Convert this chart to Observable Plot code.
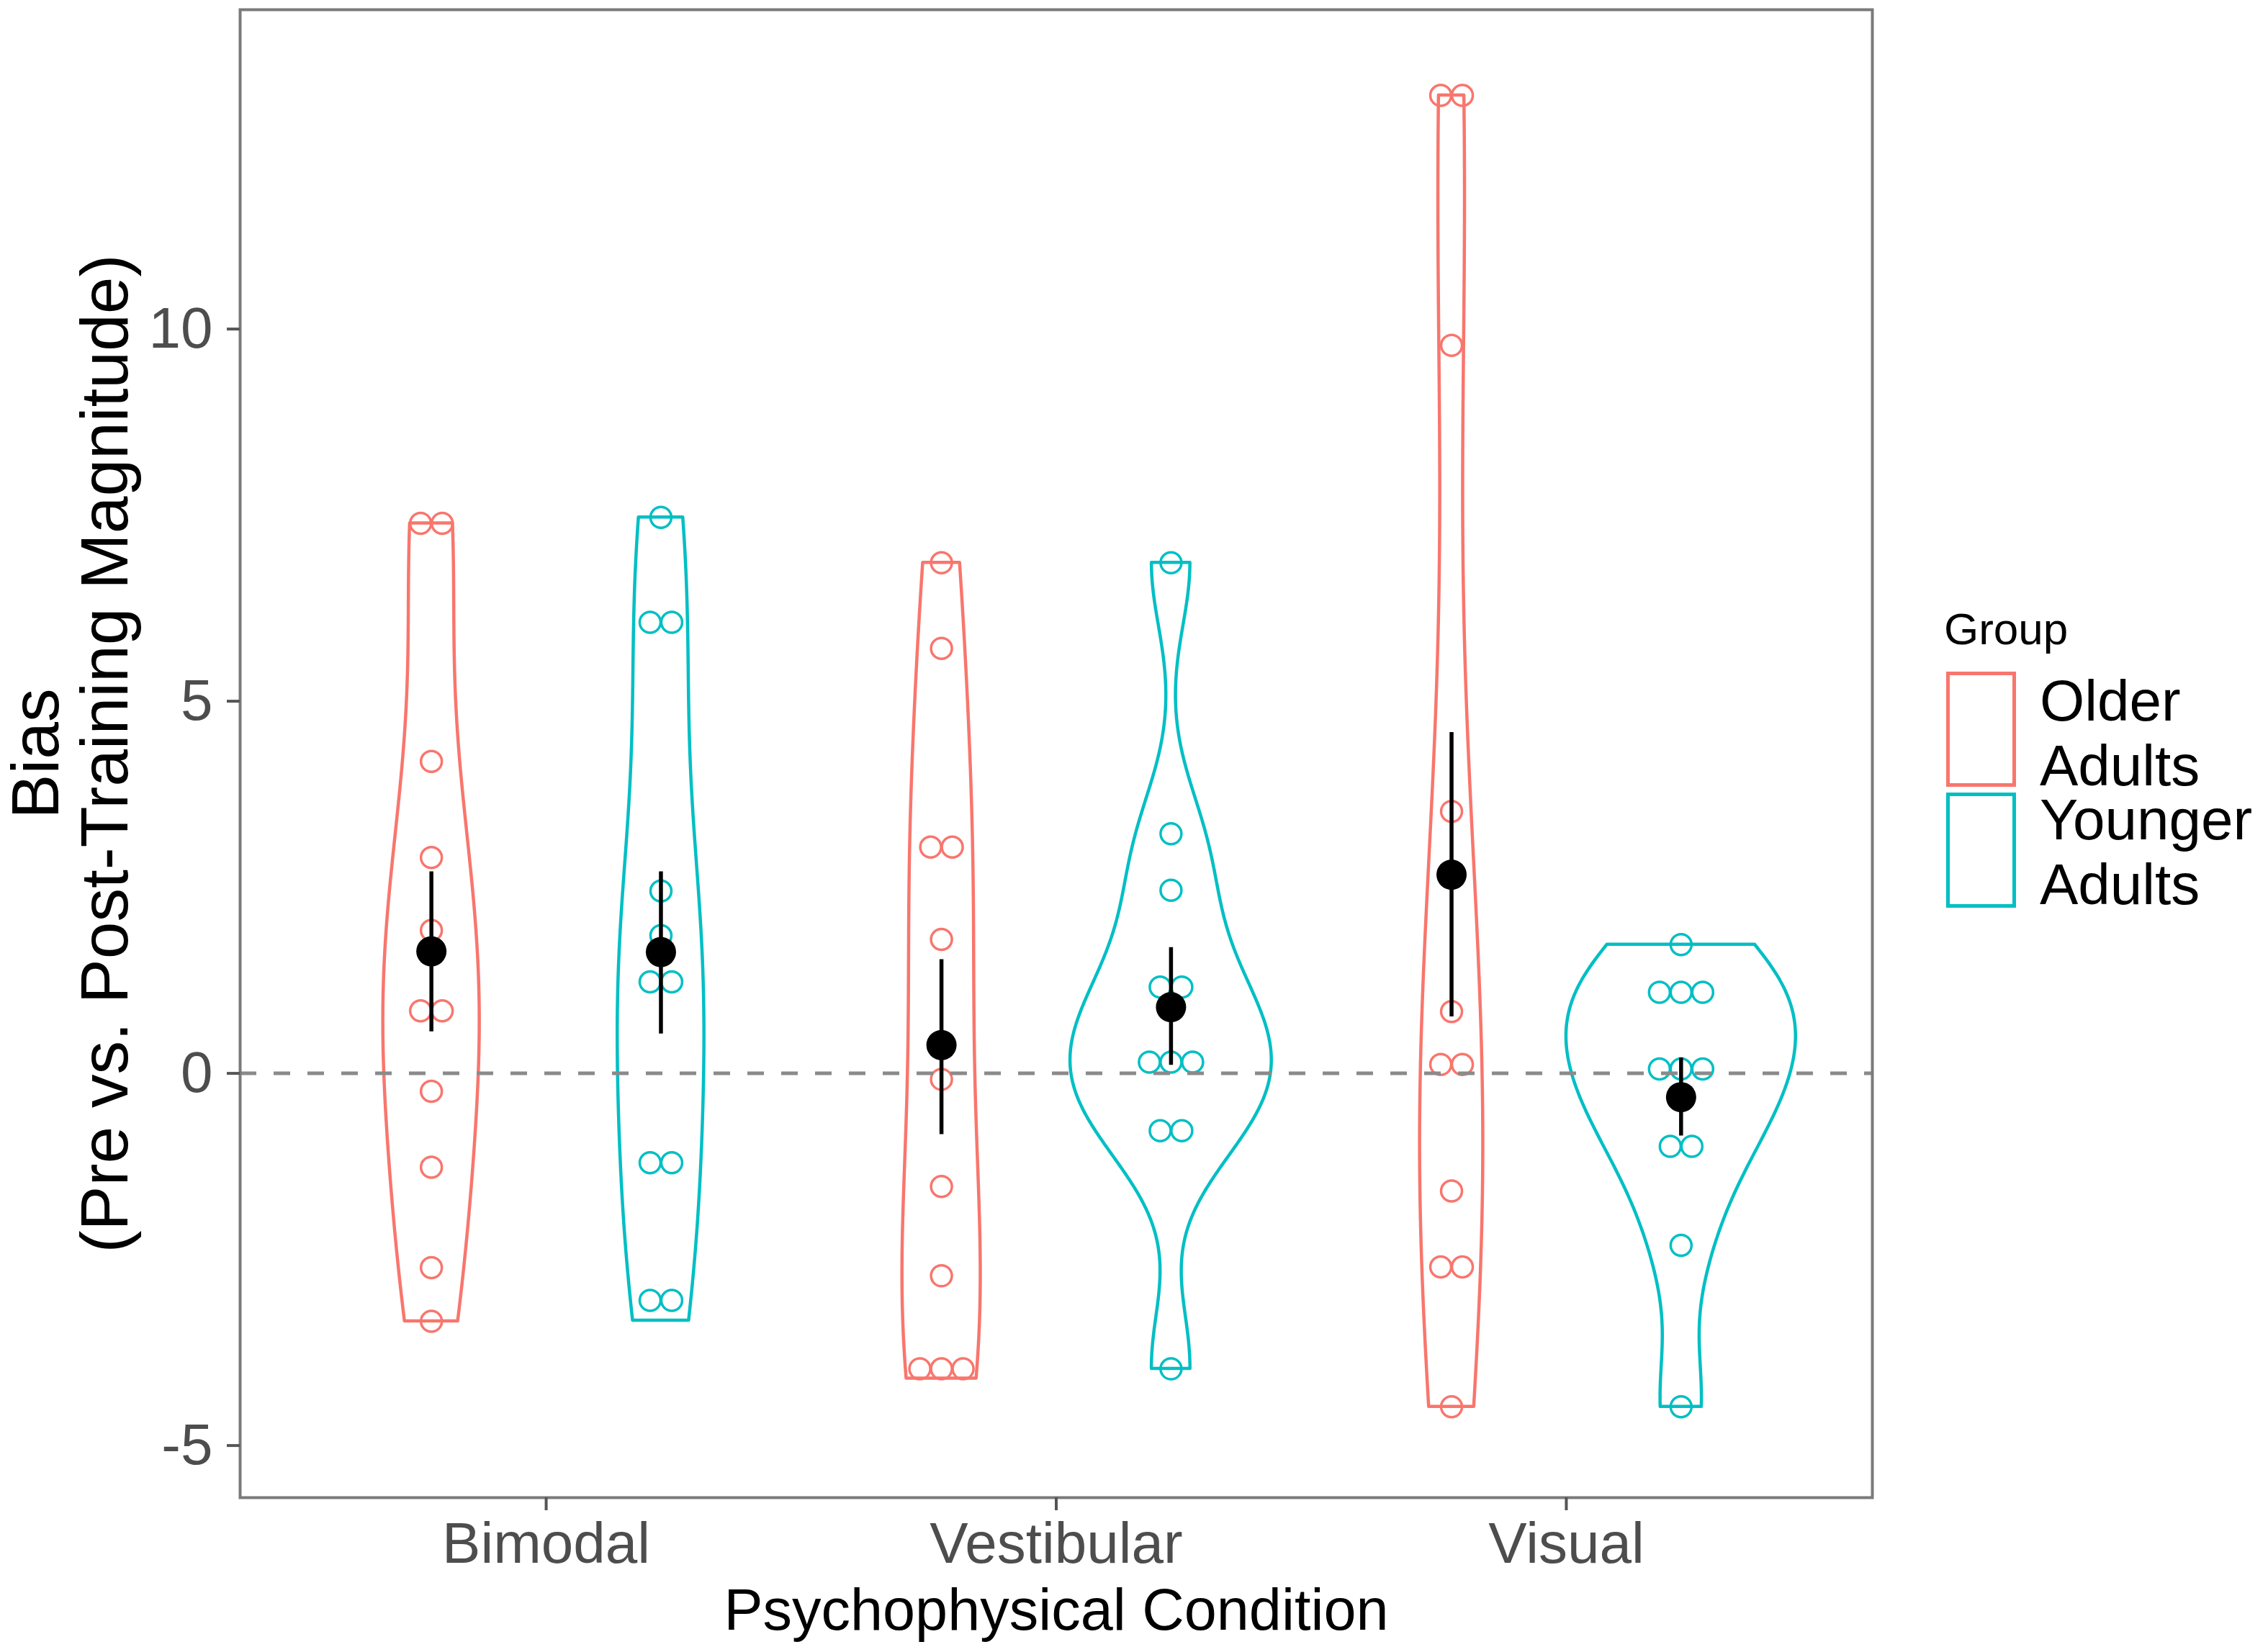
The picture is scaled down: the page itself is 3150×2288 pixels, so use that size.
<!DOCTYPE html>
<html><head><meta charset="utf-8">
<script src="https://cdn.jsdelivr.net/npm/d3@7"></script>
<script src="https://cdn.jsdelivr.net/npm/@observablehq/plot@0.6"></script>
<style>
body{margin:0;background:#fff;}
#wrap{position:relative;width:3150px;height:2288px;font-family:"Liberation Sans",Arial,Helvetica,sans-serif;}
#wrap svg{position:absolute;left:0;top:0;}
</style></head><body><div id="wrap"></div>
<script>
// ---- data ----
const conditions = ["Bimodal", "Vestibular", "Visual"];
const groups = ["Older Adults", "Younger Adults"];
const groupColors = ["#F8766D", "#00BFC4"];
const yTicks = [-5, 0, 5, 10];

const bimodalOlder      = [7.39, 7.39, 4.19, 2.90, 1.92, 0.84, 0.84, -0.24, -1.26, -2.61, -3.33];
const bimodalYounger    = [7.47, 6.06, 6.06, 2.45, 1.85, 1.23, 1.23, -1.20, -1.20, -3.05, -3.05];
const vestibularOlder   = [6.86, 5.71, 3.04, 3.04, 1.80, -0.08, -1.52, -2.72, -3.97, -3.97, -3.97];
const vestibularYounger = [6.86, 3.22, 2.46, 1.16, 1.16, 0.15, 0.15, 0.15, -0.77, -0.77, -3.97];
const visualOlder       = [13.14, 13.14, 9.78, 3.52, 0.83, 0.12, 0.12, -1.58, -2.60, -2.60, -4.48];
const visualYounger     = [1.73, 1.09, 1.09, 1.09, 0.06, 0.06, 0.06, -0.98, -0.98, -2.31, -4.48];

// order: Bimodal-Older, Bimodal-Younger, Vestibular-Older, Vestibular-Younger, Visual-Older, Visual-Younger
const violinMin = [-3.33, -3.32, -4.10, -3.97, -4.48, -4.48];
const violinMax = [7.39, 7.47, 6.86, 6.86, 13.14, 1.73];
const meanBias  = [1.64, 1.63, 0.38, 0.89, 2.67, -0.32];
const errLow    = [0.56, 0.53, -0.82, 0.11, 0.76, -0.84];
const errHigh   = [2.71, 2.71, 1.53, 1.69, 4.58, 0.21];

// ---- layout ----
const W = 3150, H = 2288, ML = 333, MR = 550, MT = 13, MB = 208;
const xDomain = [0.4, 3.6];
const pxPerUnit = (W - ML - MR) / (xDomain[1] - xDomain[0]);
const dodge = 0.225;
const dotDiam = 30;

const seriesValues = [bimodalOlder, bimodalYounger, vestibularOlder, vestibularYounger, visualOlder, visualYounger];
const series = seriesValues.map((values, i) => {
  const cond = Math.floor(i / 2), grp = i % 2;
  return {i, cond, grp, group: groups[grp], values, cx: cond + 1 + (grp === 0 ? -dodge : dodge)};
});

// Gaussian kernel density (bw.nrd0), like ggplot's stat_ydensity
function kde(values, lo, hi, n = 512) {
  const s = values.slice().sort(d3.ascending);
  const sd = d3.deviation(s);
  const iqr = d3.quantile(s, 0.75) - d3.quantile(s, 0.25);
  let m = Math.min(sd, iqr / 1.34);
  if (!(m > 0)) m = sd;
  const bw = 0.9 * m * Math.pow(s.length, -0.2);
  const out = [];
  for (let k = 0; k < n; k++) {
    const y = lo + (hi - lo) * k / (n - 1);
    let d = 0;
    for (const v of s) { const u = (y - v) / bw; d += Math.exp(-0.5 * u * u); }
    out.push({y, d: d / (s.length * bw * Math.sqrt(2 * Math.PI))});
  }
  return out;
}
const dens = series.map(s => kde(s.values, violinMin[s.i], violinMax[s.i]));
const maxD = d3.max(dens.flat(), d => d.d);
const violinRows = series.flatMap((s, i) => dens[i].map(p => ({
  key: i, group: s.group, y: p.y,
  x1: s.cx - p.d / maxD * dodge, x2: s.cx + p.d / maxD * dodge
})));

// stacked dots (centered stacks of equal values)
const dotRows = series.flatMap(s => {
  const byVal = d3.group(s.values, v => v);
  const rows = [];
  for (const [v, arr] of byVal) {
    arr.forEach((_, k) => rows.push({group: s.group, y: v,
      x: s.cx + (k - (arr.length - 1) / 2) * dotDiam / pxPerUnit}));
  }
  return rows;
});
const summaryRows = series.map(s => ({x: s.cx, mean: meanBias[s.i], lo: errLow[s.i], hi: errHigh[s.i]}));

const font = '"Liberation Sans", Arial, Helvetica, sans-serif';
const chart = Plot.plot({
  width: W, height: H,
  marginLeft: ML, marginRight: MR, marginTop: MT, marginBottom: MB,
  style: {fontFamily: font, background: "white", overflow: "visible"},
  x: {domain: xDomain, axis: null},
  y: {domain: [-5.70, 14.29], axis: null},
  color: {domain: groups, range: groupColors},
  marks: [
    Plot.areaX(violinRows, {y: "y", x1: "x1", x2: "x2", z: "key", stroke: "group", fill: "none", strokeWidth: 4.5, curve: "linear"}),
    Plot.dot(dotRows, {x: "x", y: "y", r: 14.5, stroke: "group", fill: "none", strokeWidth: 3.5}),
    Plot.ruleY([0], {stroke: "#8a8a8a", strokeWidth: 5, strokeDasharray: "23,24"}),
    Plot.ruleX(summaryRows, {x: "x", y1: "lo", y2: "hi", stroke: "black", strokeWidth: 5.5}),
    Plot.dot(summaryRows, {x: "x", y: "mean", r: 21, fill: "black"}),
    Plot.frame({stroke: "#7a7a7a", strokeWidth: 4}),
    Plot.axisX([1, 2, 3], {tickFormat: d => conditions[d - 1], tickSize: 18, tickPadding: 16, fontSize: 80, stroke: "#555", strokeWidth: 4, fill: "#4d4d4d", label: null}),
    Plot.axisY(yTicks, {tickFormat: d => String(d), tickSize: 18, tickPadding: 20, fontSize: 80, stroke: "#555", strokeWidth: 4, fill: "#4d4d4d", label: null}),
    Plot.text(["Psychophysical Condition"], {frameAnchor: "bottom", dy: 183, lineAnchor: "bottom", textAnchor: "middle", fontSize: 81, fill: "black"}),
    Plot.text(["Bias"], {frameAnchor: "left", dx: 80 - ML, rotate: -90, lineAnchor: "bottom", textAnchor: "middle", fontSize: 93, fill: "black"}),
    Plot.text(["(Pre vs. Post-Training Magnitude)"], {frameAnchor: "left", dx: 176 - ML, rotate: -90, lineAnchor: "bottom", textAnchor: "middle", fontSize: 93, fill: "black"})
  ]
});
const wrap = document.getElementById("wrap");
wrap.appendChild(chart);

// legend
const leg = d3.select(wrap).append("svg").attr("width", W).attr("height", H)
  .style("pointer-events", "none").style("font-family", font);
leg.append("text").attr("x", 2700).attr("y", 895).attr("font-size", 62).attr("fill", "black").text("Group");
const legLines = [["Older", "Adults"], ["Younger", "Adults"]];
const keyTops = [935.5, 1103.5];
const baselines = [[1001, 1091], [1166, 1256]];
groups.forEach((g, i) => {
  leg.append("rect").attr("x", 2705.5).attr("y", keyTops[i]).attr("width", 92).attr("height", 155)
    .attr("fill", "none").attr("stroke", groupColors[i]).attr("stroke-width", 5);
  legLines[i].forEach((t, j) => {
    leg.append("text").attr("x", 2833).attr("y", baselines[i][j]).attr("font-size", 80).attr("fill", "black").text(t);
  });
});
</script></body></html>
